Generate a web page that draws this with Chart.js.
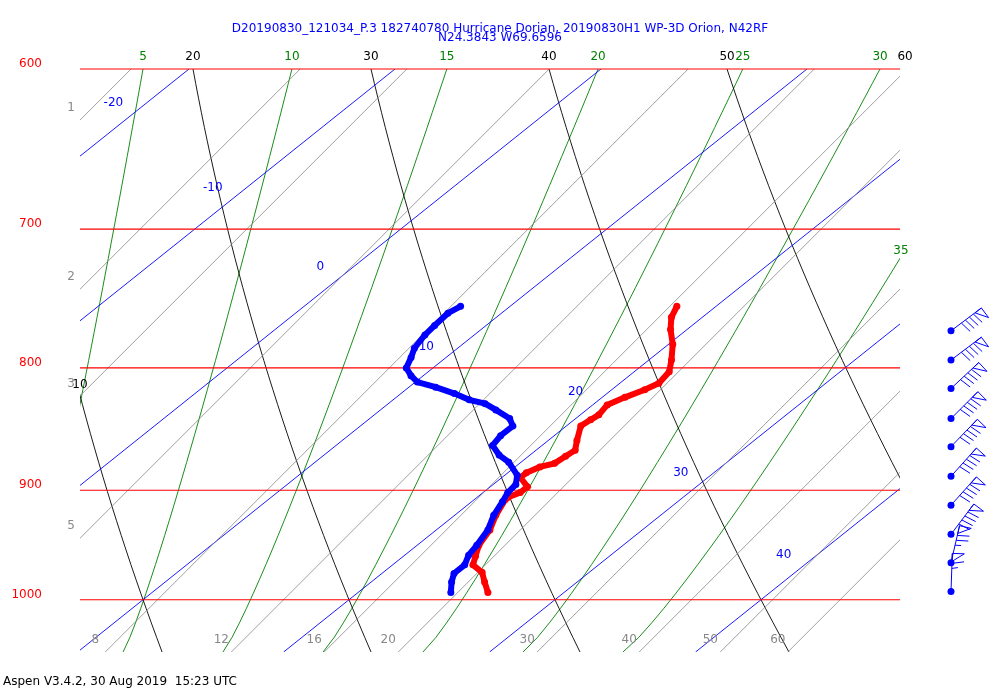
<!DOCTYPE html>
<html><head><meta charset="utf-8">
<script src="https://cdn.jsdelivr.net/npm/chart.js@4.4.1/dist/chart.umd.min.js"></script>
<style>html,body{margin:0;padding:0;background:#fff}canvas{display:block}</style>
</head><body>
<canvas id="c" width="1000" height="700"></canvas>
<script>
// ---- data ----
const tempP = [754,762,771,782,794,803,812,817,823,829,837,841,846,858,866,871,877,880,885,889,897,902,906,908,922,935,949,959,967,974,983,993];
const tempT = [18.1,18.5,19.2,20.2,21.1,21.7,21.9,21.6,21.1,20.7,20.9,20.8,20.7,21.4,21.9,21.8,21.7,21.2,20.9,20.9,21.8,21.8,21.5,21.5,22.0,22.6,23.0,23.5,23.9,24.8,25.5,26.3];
const dewP = [754,759,768,775,785,792,800,806,811,815,820,825,828,833,840,846,854,862,870,876,887,895,902,910,922,935,949,958,967,975,983,993];
const dewT = [7.6,7.4,7.5,7.6,7.9,8.3,8.7,9.4,10.1,11.3,12.6,13.7,14.7,15.6,16.8,17.4,17.4,17.6,18.5,19.4,20.6,21.1,21.2,21.5,21.9,22.5,22.9,23.1,23.5,23.5,23.9,24.5];
const windP = [772,794,816,840,863,888,913,939,965,992];
const windDir = [53,53,47,45,44,42,42,37,13,2];
const windSpd = [90,90,90,90,90,90,90,90,75,65];
const pressureLevels = [600,700,800,900,1000];
const isotherms = [-20,-10,0,10,20,30,40];
const isothermLabelP = [620,673,726,784,819,885,958];
const thetaLines = [10,20,30,40,50,60];
const greenVals = [5,10,15,20,25,30,35];
const greenBaseX = [4.17,9.03,13.88,18.74,23.59,28.45,33.3];
const greenSpanX = [5.83,8.20,10.87,13.35,15.53,17.33,18.93];
const grayVals = [1,2,3,5,8,12,16,20,30,40,50,60];
const grayLabelsLeft = [1,2,3,5];
const grayLabelsBottom = [8,12,16,20,30,40,50,60];

const SK = 63.1, PTOP = 600, PBOT = 1051.6, XMIN = 6.94, XMAX = 46.75, GEXP = 0.87;
const sx = (T,p) => T + SK*Math.log(1000/p);
const pAt = f => PTOP*Math.pow(PBOT/PTOP, f);
const fracs = Array.from({length:41},(_,i)=>i/40);

const ds = [];
const line = (pts,color,w,extra) => ds.push(Object.assign({data:pts,borderColor:color,borderWidth:w,pointRadius:0,showLine:true,fill:false,order:10},extra||{}));
const grayX = w => { const L=Math.log(w); return -18.88 + 11.26*L + 0.84*L*L; };
grayVals.forEach(w=>{ const xb=grayX(w); line([{x:xb+28.3,y:PTOP},{x:xb,y:PBOT}],'#888',0.8); });
isotherms.forEach(T=>line([{x:sx(T,PTOP),y:PTOP},{x:sx(T,PBOT),y:PBOT}],'#0000ff',0.9));
const thetaT = (th,p)=> (th+273.15)*Math.pow(p/1000,0.2857)-273.15;
thetaLines.forEach(th=>line(fracs.map(f=>{const p=pAt(f);return {x:sx(thetaT(th,p),p),y:p};}),'#000',0.9));
const greenAt = (i,f)=>greenBaseX[i]+greenSpanX[i]*Math.pow(1-f,GEXP);
greenVals.forEach((v,i)=>line(fracs.map(f=>({x:greenAt(i,f),y:pAt(f)})),'#008000',0.9));
pressureLevels.forEach(p=>line([{x:XMIN,y:p},{x:XMAX,y:p}],'#ff0000',1.2,{clip:3,order:5}));
ds.push({data:tempP.map((p,i)=>({x:sx(tempT[i],p),y:p})),borderColor:'#ff0000',backgroundColor:'#ff0000',borderWidth:6,pointRadius:3.5,pointBorderWidth:0,showLine:true,order:2});
ds.push({data:dewP.map((p,i)=>({x:sx(dewT[i],p),y:p})),borderColor:'#0000ff',backgroundColor:'#0000ff',borderWidth:6,pointRadius:3.5,pointBorderWidth:0,showLine:true,order:1});

const labels = {
  id:'labels',
  afterDraw(ch){
    const c=ch.ctx, X=ch.scales.x, Y=ch.scales.y, a=ch.chartArea;
    c.save(); c.font='12px "DejaVu Sans"'; c.textBaseline='middle';
    c.textAlign='center'; c.fillStyle='#0000ff';
    c.fillText('D20190830_121034_P.3 182740780 Hurricane Dorian, 20190830H1 WP-3D Orion, N42RF',500,29);
    c.fillText('N24.3843 W69.6596',500,38);
    c.fillStyle='#000'; c.textAlign='left';
    c.fillText('Aspen V3.4.2, 30 Aug 2019  15:23 UTC',3,682);
    c.textAlign='right'; c.fillStyle='#ff0000';
    pressureLevels.forEach(p=>c.fillText(String(p),42,Y.getPixelForValue(p)-5));
    c.textAlign='center'; c.fillStyle='#000';
    thetaLines.forEach(th=>{
      const xp=X.getPixelForValue(sx(thetaT(th,PTOP),PTOP));
      if(xp>=a.left) c.fillText(String(th),xp,57);
      else { for(let f=0;f<=1;f+=0.002){const p=pAt(f);if(X.getPixelForValue(sx(thetaT(th,p),p))>=a.left){c.fillText(String(th),a.left,Y.getPixelForValue(p)-12);break;}} }
    });
    c.fillStyle='#008000';
    greenVals.forEach((v,i)=>{
      const xp=X.getPixelForValue(greenAt(i,0));
      if(xp<=a.right) c.fillText(String(v),xp,57);
      else { for(let f=0;f<=1;f+=0.002){ if(greenAt(i,f)<=XMAX){c.fillText(String(v),a.right+1,Y.getPixelForValue(pAt(f))-8);break;}} }
    });
    c.fillStyle='#0000ff';
    isotherms.forEach((T,i)=>{const p=isothermLabelP[i];c.fillText(String(T),X.getPixelForValue(sx(T,p))-33,Y.getPixelForValue(p));});
    c.fillStyle='#888';
    grayLabelsLeft.forEach(w=>{ const xb=grayX(w); const f=1-(XMIN-xb)/28.3; c.fillText(String(w),71,Y.getPixelForValue(pAt(f))-12);});
    grayLabelsBottom.forEach(w=>{ const xb=grayX(w); c.fillText(String(w),X.getPixelForValue(xb)-10,640);});
    c.strokeStyle='#0000ff'; c.fillStyle='#0000ff'; c.lineWidth=1;
    windP.forEach((p,i)=>{
      const x0=951, y0=Y.getPixelForValue(p), az=windDir[i]*Math.PI/180;
      const ux=Math.sin(az), uy=-Math.cos(az), px=Math.cos(az), py=Math.sin(az);
      const L=38, tx=x0+ux*L, ty=y0+uy*L;
      c.beginPath(); c.arc(x0,y0,3.5,0,Math.PI*2); c.fill();
      c.beginPath(); c.moveTo(x0,y0); c.lineTo(tx,ty); c.stroke();
      let s=windSpd[i], d=0;
      while(s>=50){ c.beginPath(); c.moveTo(tx-ux*d,ty-uy*d); c.lineTo(tx-ux*d+px*12,ty-uy*d+py*12); c.lineTo(tx-ux*(d+8),ty-uy*(d+8)); c.closePath(); c.stroke(); d+=10; s-=50; }
      while(s>=10){ c.beginPath(); c.moveTo(tx-ux*d,ty-uy*d); c.lineTo(tx-ux*d+px*12+ux*2,ty-uy*d+py*12+uy*2); c.stroke(); d+=5; s-=10; }
      if(s>=5){ c.beginPath(); c.moveTo(tx-ux*d,ty-uy*d); c.lineTo(tx-ux*d+px*6+ux*1,ty-uy*d+py*6+uy*1); c.stroke(); }
    });
    c.restore();
  }
};

new Chart(document.getElementById('c'),{
  type:'scatter',
  data:{datasets:ds},
  options:{
    responsive:false, animation:false, devicePixelRatio:1,
    layout:{padding:{left:80,right:100,top:69,bottom:48}},
    plugins:{legend:{display:false},tooltip:{enabled:false}},
    scales:{
      x:{type:'linear',min:XMIN,max:XMAX,display:false},
      y:{type:'logarithmic',min:PTOP,max:PBOT,reverse:true,display:false}
    }
  },
  plugins:[labels]
});
</script>
</body></html>
